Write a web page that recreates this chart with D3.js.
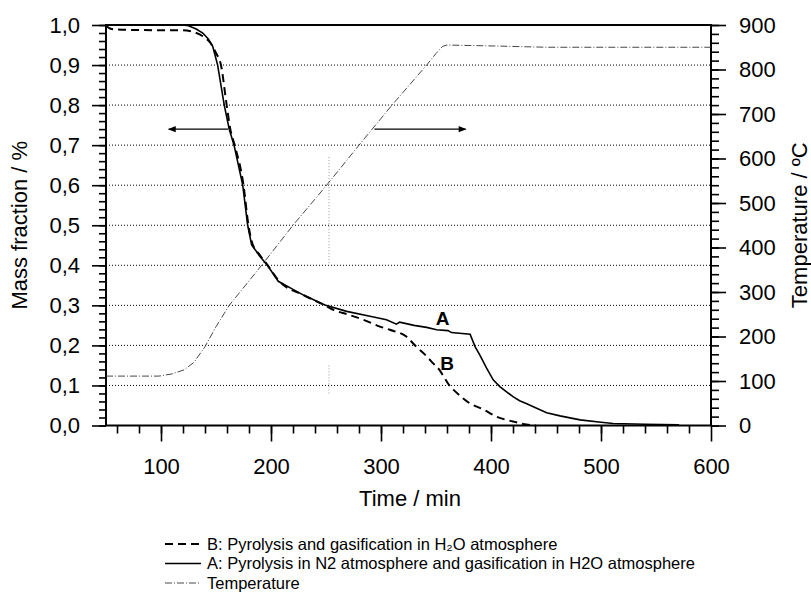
<!DOCTYPE html>
<html><head><meta charset="utf-8">
<script src="https://cdn.jsdelivr.net/npm/d3@7"></script>
<style>
body{margin:0;background:#fff;}
text{font-family:"Liberation Sans",Arial,sans-serif;fill:#000;}
</style></head>
<body><svg id="c" width="811" height="594"></svg>
<script>
// ---- data ----
const timeA = [50,120,125,132,138,143,147,151.5,157.5,162,166.4,174.3,178.8,182.4,190,196.7,206.6,220,230,249,268.8,290,305,314,317,330,341.5,350.6,361,364,381,385.5,390,396,402,408,420,426,432,440,450.6,462.7,481,500,511,540,571];
const massA = [1.0,1.0,0.998,0.99,0.98,0.965,0.947,0.9,0.8,0.74,0.7,0.6,0.5,0.451,0.422,0.4,0.36,0.34,0.325,0.301,0.285,0.273,0.264,0.253,0.258,0.25,0.245,0.239,0.237,0.232,0.228,0.197,0.175,0.143,0.114,0.097,0.072,0.062,0.055,0.045,0.032,0.024,0.014,0.008,0.005,0.003,0.002];
const timeB = [50,55,70,100,120,130,138,145,150,154.5,159.7,163,167,175,179.5,183,190,197,207,230,249,256.6,270,284,299,308,323,332,340,347.5,353.6,357,363,366,381,393,405,420,429,441];
const massB = [0.998,0.99,0.988,0.987,0.987,0.982,0.972,0.955,0.93,0.9,0.8,0.74,0.7,0.6,0.5,0.455,0.425,0.4,0.362,0.325,0.30,0.289,0.277,0.264,0.247,0.239,0.222,0.197,0.177,0.155,0.137,0.122,0.097,0.089,0.055,0.04,0.022,0.01,0.004,0.0];
const timeT = [50,98,110,121,130,140,150,162,191.5,220,250.6,280,310,341.5,350,356,360,400,450,500,600];
const tempT = [111,111,116,125,142,177,222,270,360,450,540,630,720,810,836,852,855,853,850,850,850];
const xMajor = [100,200,300,400,500,600];
const xMinor = d3.range(60,600,20);
const yMajor = [0,0.1,0.2,0.3,0.4,0.5,0.6,0.7,0.8,0.9,1.0];
const yMinor = d3.range(0,1.0001,0.02).map(v=>+v.toFixed(2));
const tMajor = [0,100,200,300,400,500,600,700,800,900];
const tMinor = d3.range(0,900.1,20);
const gridVals = [0.1,0.2,0.3,0.4,0.5,0.6,0.7,0.8,0.9];
const legendItems = ["B: Pyrolysis and gasification in H\u2082O atmosphere","A: Pyrolysis in N2 atmosphere and gasification in H2O atmosphere","Temperature"];
const arrowLeft = {t0:161, t1:107, m:0.74};
const arrowRight = {t0:294, t1:377, m:0.74};
const curveLabels = [{text:"A", t:356, m:0.25},{text:"B", t:360, m:0.138}];
const artifactT = 252.7;
const artifactSegs = [[0.67,0.40],[0.15,0.08]];

// ---- chart ----
const svg = d3.select("#c");
const L=106,R=711,T=25,B=425.5;
const x = d3.scaleLinear([50,600],[L,R]);
const yL = d3.scaleLinear([0,1],[B,T]);
const yR = d3.scaleLinear([0,900],[B,T]);

svg.append("defs").append("marker").attr("id","ah").attr("viewBox","0 0 10 10")
  .attr("refX",9).attr("refY",5).attr("markerWidth",8).attr("markerHeight",6).attr("orient","auto")
  .append("path").attr("d","M0,1L10,5L0,9Z").attr("fill","#000");

// grid
svg.append("g").selectAll("line").data(gridVals).join("line")
  .attr("x1",L).attr("x2",R).attr("y1",d=>yL(d)).attr("y2",d=>yL(d))
  .attr("stroke","#000").attr("stroke-width",1).attr("stroke-dasharray","1,2");

// artifact vertical dotted
svg.append("g").selectAll("line").data(artifactSegs).join("line")
  .attr("x1",x(artifactT)).attr("x2",x(artifactT)).attr("y1",d=>yL(d[0])).attr("y2",d=>yL(d[1]))
  .attr("stroke","#999").attr("stroke-width",1).attr("stroke-dasharray","1,2");

function styleAxis(g){ g.select(".domain").remove(); g.selectAll("line").attr("stroke","#000").attr("stroke-width",1.6); }

// left axis
svg.append("g").attr("transform",`translate(${L},0)`)
  .call(d3.axisLeft(yL).tickValues(yMinor).tickSize(7).tickFormat("")).call(styleAxis);
svg.append("g").attr("transform",`translate(${L},0)`)
  .call(d3.axisLeft(yL).tickValues(yMajor).tickSize(14).tickPadding(12).tickFormat(d=>d.toFixed(1).replace(".",",")))
  .call(styleAxis).selectAll("text").attr("font-size",22);
// right axis
svg.append("g").attr("transform",`translate(${R},0)`)
  .call(d3.axisRight(yR).tickValues(tMinor).tickSize(8).tickFormat("")).call(styleAxis);
svg.append("g").attr("transform",`translate(${R},0)`)
  .call(d3.axisRight(yR).tickValues(tMajor).tickSize(15).tickPadding(13).tickFormat(d3.format("d")))
  .call(styleAxis).selectAll("text").attr("font-size",22);
// bottom axis
svg.append("g").attr("transform",`translate(0,${B})`)
  .call(d3.axisBottom(x).tickValues(xMinor).tickSize(8).tickFormat("")).call(styleAxis);
svg.append("g").attr("transform",`translate(0,${B})`)
  .call(d3.axisBottom(x).tickValues(xMajor).tickSize(16).tickPadding(17).tickFormat(d3.format("d")))
  .call(styleAxis).selectAll("text").attr("font-size",22);

// frame
svg.append("rect").attr("x",L).attr("y",T).attr("width",R-L).attr("height",B-T)
  .attr("fill","none").attr("stroke","#000").attr("stroke-width",2);

// temperature
const lineT = d3.line().x((d,i)=>x(timeT[i])).y(d=>yR(d));
svg.append("path").attr("d",lineT(tempT)).attr("fill","none").attr("stroke","#333")
  .attr("stroke-width",0.9).attr("stroke-dasharray","7,2,1,2");
// B
const lineB = d3.line().x((d,i)=>x(timeB[i])).y(d=>yL(d)).curve(d3.curveMonotoneX);
svg.append("path").attr("d",lineB(massB)).attr("fill","none").attr("stroke","#000")
  .attr("stroke-width",2).attr("stroke-dasharray","8,5");
// A
const lineA = d3.line().x((d,i)=>x(timeA[i])).y(d=>yL(d)).curve(d3.curveLinear);
svg.append("path").attr("d",lineA(massA)).attr("fill","none").attr("stroke","#000").attr("stroke-width",1.6);

// arrows
[arrowLeft,arrowRight].forEach(a=>{
  svg.append("line").attr("x1",x(a.t0)).attr("x2",x(a.t1)).attr("y1",yL(a.m)).attr("y2",yL(a.m))
    .attr("stroke","#000").attr("stroke-width",1.3).attr("marker-end","url(#ah)");
});
// curve labels
svg.append("g").selectAll("text").data(curveLabels).join("text")
  .attr("x",d=>x(d.t)).attr("y",d=>yL(d.m)).attr("text-anchor","middle")
  .attr("font-size",19).attr("font-weight","bold").text(d=>d.text);

// axis titles
svg.append("text").attr("transform",`translate(27,${(T+B)/2}) rotate(-90)`).attr("text-anchor","middle")
  .attr("font-size",22).text("Mass fraction / %");
svg.append("text").attr("transform",`translate(807,${(T+B)/2}) rotate(-90)`).attr("text-anchor","middle")
  .attr("font-size",22).text("Temperature / \u00baC");
svg.append("text").attr("x",410).attr("y",506).attr("text-anchor","middle").attr("font-size",22).text("Time / min");

// legend
const lg = svg.append("g");
const dashes = ["8,5",null,"7,2,1,2"];
const widths = [2,1.6,0.9];
legendItems.forEach((s,i)=>{
  const yy = 544 + i*19.5;
  lg.append("line").attr("x1",165).attr("x2",201).attr("y1",yy).attr("y2",yy)
    .attr("stroke",i==2?"#333":"#000").attr("stroke-width",widths[i]).attr("stroke-dasharray",dashes[i]);
  lg.append("text").attr("x",207).attr("y",yy+5.5).attr("font-size",16.5).text(s);
});
</script></body></html>
